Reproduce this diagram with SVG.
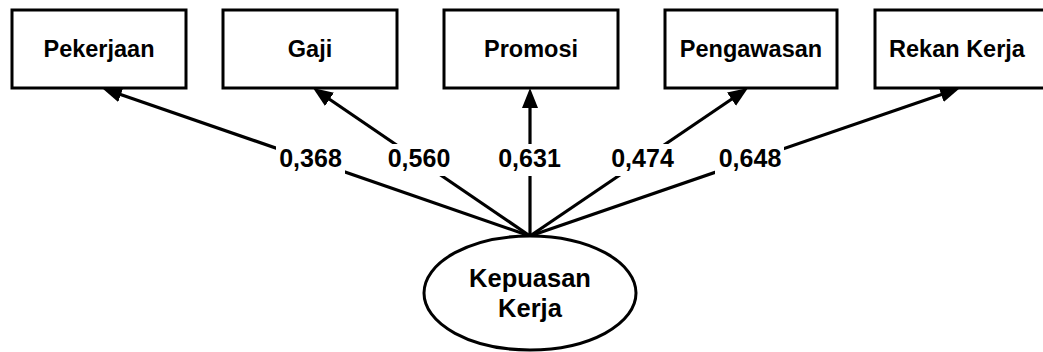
<svg xmlns="http://www.w3.org/2000/svg" width="1043" height="352" viewBox="0 0 1043 352">
  <style>
    .box { fill: #fff; stroke: #000; stroke-width: 3; }
    .t { font-family: "Liberation Sans", Arial, sans-serif; font-weight: bold; fill: #000; text-anchor: middle; }
    .bt { font-size: 23.5px; }
    .lt { font-size: 25px; }
    .et { font-size: 25.5px; }
    .edge { fill: none; stroke: #000; stroke-width: 3.2; marker-end: url(#arr); }
    .lbg { fill: #fff; }
  </style>
  <defs>
    <marker id="arr" markerUnits="userSpaceOnUse" markerWidth="22" markerHeight="18" refX="8" refY="8" orient="auto">
      <path d="M0,0 L20,8 L0,16 z" fill="#000"/>
    </marker>
  </defs>
  <rect width="1043" height="352" fill="#fff"/>

  <g id="connectors">
    <path class="edge" d="M530,236 L113.3,91.9"/>
    <path class="edge" d="M530,236 L322.9,94.8"/>
    <path class="edge" d="M530,236 L530,100"/>
    <path class="edge" d="M530,236 L738.1,94.7"/>
    <path class="edge" d="M530,236 L948.7,91.9"/>
    <g id="labels">
      <rect class="lbg" x="276" y="144" width="69" height="32"/>
      <text class="t lt" x="310.5" y="167">0,368</text>
      <rect class="lbg" x="385" y="144" width="68" height="32"/>
      <text class="t lt" x="419" y="167">0,560</text>
      <rect class="lbg" x="496" y="144" width="67" height="32"/>
      <text class="t lt" x="529.5" y="167">0,631</text>
      <rect class="lbg" x="609" y="144" width="68" height="32"/>
      <text class="t lt" x="642.5" y="167">0,474</text>
      <rect class="lbg" x="715" y="144" width="69" height="32"/>
      <text class="t lt" x="750" y="167">0,648</text>
    </g>
  </g>

  <g id="pekerjaan">
    <rect class="box" x="12" y="10" width="174" height="78"/>
    <text class="t bt" x="99" y="57">Pekerjaan</text>
  </g>
  <g id="gaji">
    <rect class="box" x="223" y="10" width="174" height="78"/>
    <text class="t bt" x="310" y="57">Gaji</text>
  </g>
  <g id="promosi">
    <rect class="box" x="444" y="10" width="174" height="78"/>
    <text class="t bt" x="531" y="57">Promosi</text>
  </g>
  <g id="pengawasan">
    <rect class="box" x="665" y="10" width="172" height="78"/>
    <text class="t bt" x="751" y="57">Pengawasan</text>
  </g>
  <g id="rekan-kerja">
    <rect class="box" x="875" y="10" width="174" height="78"/>
    <text class="t bt" x="957" y="57">Rekan Kerja</text>
  </g>
  <g id="kepuasan-kerja">
    <ellipse class="box" cx="530" cy="293" rx="106" ry="57"/>
    <text class="t et" x="530" y="287">Kepuasan</text>
    <text class="t et" x="530" y="317">Kerja</text>
  </g>
</svg>
